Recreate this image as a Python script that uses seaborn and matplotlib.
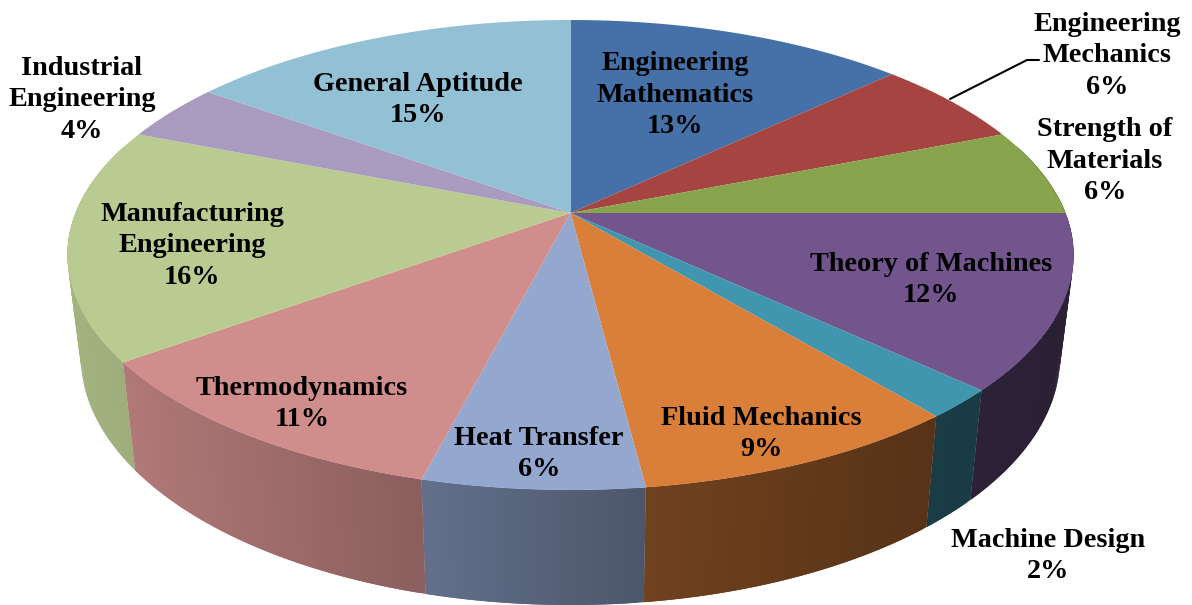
import matplotlib
matplotlib.use("Agg")
import matplotlib.pyplot as plt
import numpy as np
import seaborn as sns
from matplotlib.path import Path
from matplotlib.transforms import Affine2D, Transform

topics = ["Engineering\nMathematics", "Engineering\nMechanics", "Strength of\nMaterials",
          "Theory of Machines", "Machine Design", "Fluid Mechanics", "Heat Transfer",
          "Thermodynamics", "Manufacturing\nEngineering", "Industrial\nEngineering",
          "General Aptitude"]
shares = [13, 6, 6, 12, 2, 9, 6, 11, 16, 4, 15]
colors = ["#4570A8", "#A64442", "#88A44C", "#71558C", "#3F96AE", "#D97F3A",
          "#93A7CF", "#CF8D8C", "#B9CB91", "#A99BBF", "#92C0D4"]

# label centres in picture pixels
label_x = [675, 1107, 1105, 931, 1048, 761, 539, 302, 192, 82, 418]
label_y = [95, 56, 161, 280, 556, 434, 454, 404, 246, 100, 100]

# geometry of the tilted disc
CX, CY, RX, RY, TILT = 570.5, 213, 495, 227.5, 0.1787
FLOOR_X, FLOOR_Y, FLOOR_Y0 = 0.973, 1.056, 312.5
SHADE_X = [70, 130, 420, 645, 935, 1075]
SHADE_K = [0.88, 0.85, 0.67, 0.52, 0.40, 0.37]


class TiltedDisc(Transform):
    """Perspective map from the unit circle of ax.pie to picture pixels."""
    input_dims = 2
    output_dims = 2

    def transform_non_affine(self, values):
        u, v = values[:, 0], values[:, 1]
        d = 1 + TILT * v
        return np.column_stack([CX + RX * u / d, CY - RY * v / d])

    def transform_path_non_affine(self, path):
        # flatten the arcs first, a bezier does not survive a perspective map
        flat = path.to_polygons(transform=Affine2D().scale(2000), closed_only=True)[0] / 2000
        return Path(self.transform_non_affine(flat), closed=True)


disc = TiltedDisc()

sns.set_theme(style="white")
plt.rcParams["font.family"] = ["Liberation Serif", "DejaVu Serif"]
palette = sns.color_palette(colors)

fig = plt.figure(figsize=(11.92, 6.05), dpi=100, facecolor="white")
ax = fig.add_axes([0, 0, 1, 1])

# Side wall: strips under each slice, shaded by their position left to right.
# Each strip reaches over the next one, which then paints over the seam.
edges = np.cumsum([0] + shares) / 100
for i, color in enumerate(palette):
    lo, hi = max(edges[i], 0.2), min(edges[i + 1], 0.8)
    if hi <= lo:
        continue
    fr = np.linspace(lo, hi, max(int((hi - lo) * 600), 2) + 1)
    ang = np.pi / 2 - 2 * np.pi * fr
    rim = disc.transform_non_affine(np.column_stack([np.cos(ang), np.sin(ang)]))
    floor_x = CX + FLOOR_X * (rim[:, 0] - CX)
    floor_y = FLOOR_Y0 + FLOOR_Y * (rim[:, 1] - CY)
    for j in range(len(fr) - 1):
        e = min(j + 2, len(fr) - 1)
        k = np.interp((rim[j, 0] + rim[j + 1, 0]) / 2, SHADE_X, SHADE_K)
        ax.fill(np.r_[rim[j:e + 1, 0], floor_x[j:e + 1][::-1]],
                np.r_[rim[j:e + 1, 1], floor_y[j:e + 1][::-1]],
                color=tuple(c * k for c in color), linewidth=0, zorder=1)

# Top face
wedges, _ = ax.pie(shares, colors=palette, startangle=90, counterclock=False,
                   wedgeprops={"linewidth": 0})
for wedge in wedges:
    wedge.set_transform(disc + ax.transData)
    wedge.set_zorder(2)

ax.set_aspect("auto")
ax.set_xlim(0, 1192)
ax.set_ylim(605, 0)
ax.axis("off")

# Leader line of the Engineering Mechanics label
ax.plot([950, 1027, 1039], [99, 60, 60], color="black", linewidth=1.5, zorder=3)

for name, share, x, y in zip(topics, shares, label_x, label_y):
    ax.text(x, y, f"{name}\n{share}%", ha="center", va="center", fontsize=20.3,
            fontweight="bold", color="black", linespacing=1.34, zorder=4)

fig.savefig("out.png", dpi=100, facecolor="white")
